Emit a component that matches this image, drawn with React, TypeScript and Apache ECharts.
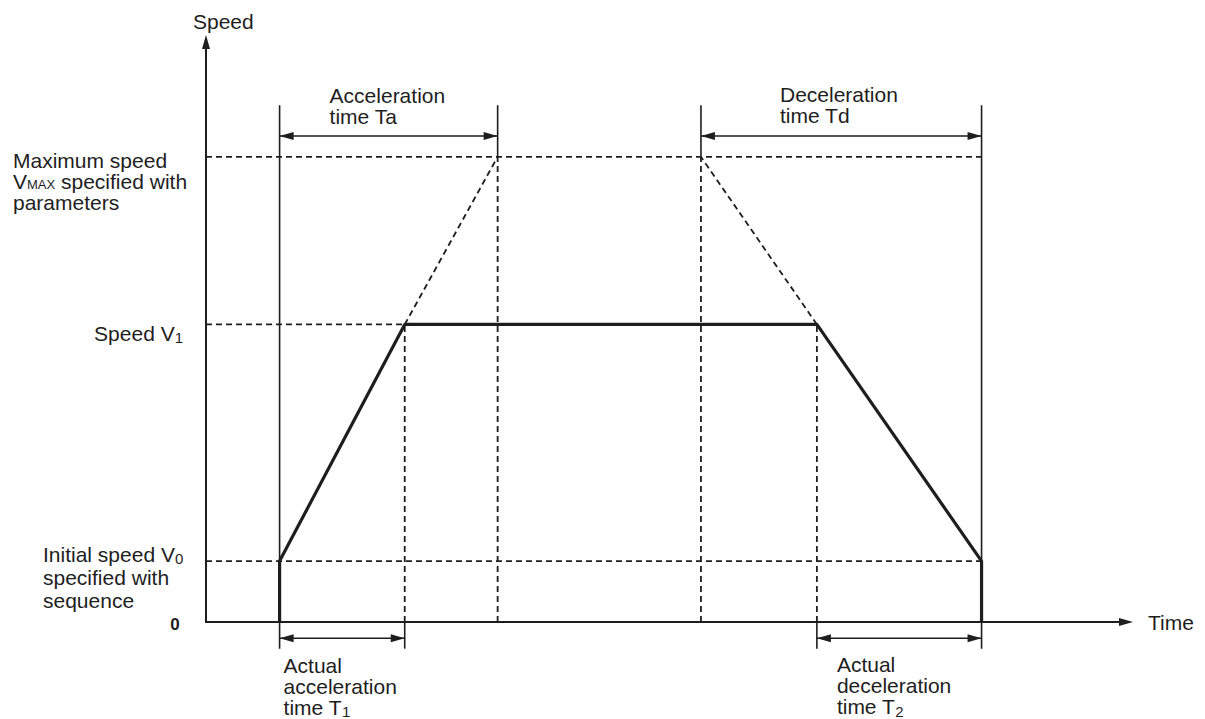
import React, { useEffect, useRef } from "react";
import * as echarts from "echarts";

// ---- data (time and speed in arbitrary units) ----
// key instants: start, end of actual accel T1, end of Ta, start of Td, start of actual decel T2, end
const keyTimes = [8, 21.6, 31.7, 53.8, 66.4, 84.3];
// speed levels: V0 (initial), V1 (reached), VMAX (parameter)
const keySpeeds = [10.5, 51.3, 80.2];
// trapezoidal speed profile actually followed
const profileTime = [8, 8, 21.6, 66.4, 84.3, 84.3];
const profileSpeed = [0, 10.5, 51.3, 51.3, 10.5, 0];
// extents of guide lines: top of guides, upper dimension line, lower dimension line, bottom of guides
const guideSpeeds = [89.1, 83.8, -2.8, -4.6];
// axis ranges
const timeRange = [0, 100];
const speedRange = [0, 100];

const INK = "#1e1e1e";
const FONT = "'Liberation Sans', Arial, Helvetica, sans-serif";
const FS = 21;

export default function App() {
  const ref = useRef<HTMLDivElement>(null);

  useEffect(() => {
    if (!ref.current) return;
    const chart = echarts.init(ref.current, undefined, { renderer: "svg" });

    const [tStart, t1End, taEnd, tdStart, t2Start, tEnd] = keyTimes;
    const [v0, v1, vMax] = keySpeeds;
    const [gTop, dimUp, dimLow, gBottom] = guideSpeeds;

    const seg = (pts: number[][], width: number, dashed: boolean, z = 2) => ({
      type: "line",
      data: pts,
      symbol: "none",
      silent: true,
      clip: false,
      z,
      lineStyle: { color: INK, width, type: dashed ? [6, 4] : "solid", cap: "butt" },
      animation: false,
    });

    // double-headed dimension arrow between two instants at a given level
    const dim = (a: number, b: number, level: number) => ({
      type: "line",
      silent: true,
      clip: false,
      z: 6,
      animation: false,
      showSymbol: true,
      showAllSymbol: true,
      symbol: "triangle",
      symbolSize: [8, 14],
      itemStyle: { color: INK },
      lineStyle: { color: INK, width: 1.6 },
      data: [
        { value: [a, level], symbolRotate: 90, symbolOffset: [7, 0] },
        { value: [b, level], symbolRotate: -90, symbolOffset: [-7, 0] },
      ],
    });

    const profile = profileTime.map((t, i) => [t, profileSpeed[i]]);

    const series: any[] = [
      // dashed horizontal reference levels
      seg([[0, vMax], [tEnd, vMax]], 1.8, true),
      seg([[0, v1], [t1End, v1]], 1.8, true),
      seg([[0, v0], [tEnd, v0]], 1.8, true),
      // dashed verticals
      seg([[t1End, 0], [t1End, v1]], 1.8, true),
      seg([[t2Start, 0], [t2Start, v1]], 1.8, true),
      seg([[taEnd, 0], [taEnd, vMax]], 1.8, true),
      seg([[tdStart, 0], [tdStart, vMax]], 1.8, true),
      // dashed slopes to VMAX
      seg([[t1End, v1], [taEnd, vMax]], 1.8, true),
      seg([[t2Start, v1], [tdStart, vMax]], 1.8, true),
      // thin solid guide lines
      seg([[tStart, gBottom], [tStart, gTop]], 1.6, false),
      seg([[tEnd, gBottom], [tEnd, gTop]], 1.6, false),
      seg([[taEnd, vMax], [taEnd, gTop]], 1.6, false),
      seg([[tdStart, vMax], [tdStart, gTop]], 1.6, false),
      seg([[t1End, gBottom], [t1End, 0]], 1.6, false),
      seg([[t2Start, gBottom], [t2Start, 0]], 1.6, false),
      // thick speed profile
      seg(profile, 3.2, false, 5),
      // dimension arrows
      dim(tStart, taEnd, dimUp),
      dim(tdStart, tEnd, dimUp),
      dim(tStart, t1End, dimLow),
      dim(t2Start, tEnd, dimLow),
    ];

    chart.setOption({
      animation: false,
      grid: { left: 206, right: 79, top: 42, bottom: 97 },
      xAxis: {
        type: "value",
        min: timeRange[0],
        max: timeRange[1],
        name: "Time",
        nameLocation: "end",
        nameGap: 22,
        nameTextStyle: { color: INK, fontFamily: FONT, fontSize: FS },
        axisLine: {
          show: true,
          symbol: ["none", "triangle"],
          symbolSize: [8, 14],
          lineStyle: { color: INK, width: 2 },
        },
        axisTick: { show: false },
        axisLabel: { show: false },
        splitLine: { show: false },
      },
      yAxis: {
        type: "value",
        min: speedRange[0],
        max: speedRange[1],
        axisLine: {
          show: true,
          symbol: ["none", "triangle"],
          symbolSize: [8, 14],
          lineStyle: { color: INK, width: 2 },
        },
        axisTick: { show: false },
        axisLabel: { show: false },
        splitLine: { show: false },
      },
      series,
    });

    const px = (x: number, y: number) =>
      chart.convertToPixel({ gridIndex: 0 }, [x, y]) as number[];

    const subStyle = { fontSize: 15, lineHeight: 12, padding: [9, 0, 0, 0], fontFamily: FONT, fill: INK };
    const capsStyle = { fontSize: 13, lineHeight: 13, padding: [6, 0, 0, 0], fontFamily: FONT, fill: INK };

    const label = (
      anchor: number[],
      dx: number,
      dy: number,
      text: string,
      extra: any = {}
    ) => {
      const p = px(anchor[0], anchor[1]);
      return {
        type: "text",
        x: p[0] + dx,
        y: p[1] + dy,
        silent: true,
        z: 10,
        style: {
          text,
          fill: INK,
          fontFamily: FONT,
          fontSize: FS,
          align: "left",
          verticalAlign: "top",
          lineHeight: 21,
          rich: { s: subStyle, m: capsStyle },
          ...extra,
        },
      };
    };

    chart.setOption({
      graphic: [
        label([0, speedRange[1]], -13, -31, "Speed"),
        label([0, vMax], -193, -6.5, "Maximum speed\nV{m|MAX} specified with\nparameters"),
        label([0, v1], -23, 8.6, "Speed V{s|1}", { align: "right", verticalAlign: "middle" }),
        label([0, v0], -163, -18.4, "Initial speed V{s|0}\nspecified with\nsequence", { lineHeight: 23 }),
        label([0, 0], -31, 2, "0", { align: "center", verticalAlign: "middle", fontSize: 17, fontWeight: "bold" }),
        label([tStart, dimUp], 50, -51.1, "Acceleration\ntime Ta"),
        label([tdStart, dimUp], 79, -52, "Deceleration\ntime Td"),
        label([tStart, gBottom], 4, 6, "Actual\nacceleration\ntime T{s|1}"),
        label([t2Start, gBottom], 20, 5.5, "Actual\ndeceleration\ntime T{s|2}"),
      ],
    });

    return () => chart.dispose();
  }, []);

  return (
    <div
      ref={ref}
      style={{ position: "absolute", left: 0, top: 0, width: 1205, height: 719, background: "#fff" }}
    />
  );
}
